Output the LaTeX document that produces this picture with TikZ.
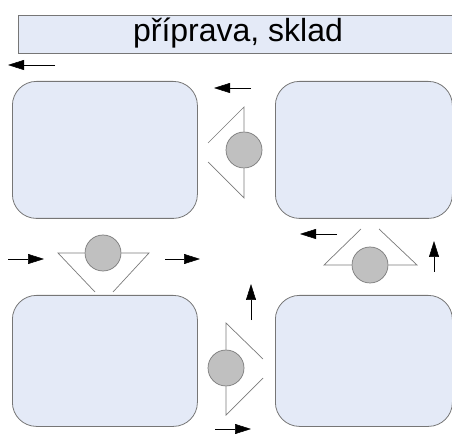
\documentclass[tikz,border=0pt]{standalone}
\usepackage{fontspec}
\setmainfont{Liberation Sans}
\usepackage{tikz}
\usetikzlibrary{calc,arrows.meta}

\definecolor{roomfill}{HTML}{E4EAF7}
\definecolor{roomline}{HTML}{767676}
\definecolor{valvefill}{HTML}{C0C0C0}
\definecolor{valveline}{HTML}{7A7A7A}

\tikzset{
  room/.style={rectangle, draw=roomline, fill=roomfill, line width=0.8pt,
    rounded corners=24pt, anchor=north west, inner sep=0pt},
  valve/.style={circle, draw=valveline, fill=valvefill, line width=0.7pt,
    minimum size=36pt, inner sep=0pt},
  wing/.style={draw=valveline, line width=0.7pt},
  flow/.style={-{Triangle[length=16pt,width=10pt]}, line width=0.5pt, black}
}

\begin{document}
\begin{tikzpicture}[x=1pt,y=-1pt]
  \useasboundingbox (0,0) rectangle (452,435);

  % Top bar
  \node[rectangle, draw=roomline, fill=roomfill, line width=0.8pt,
    anchor=north west, minimum width=460pt, minimum height=38pt,
    inner sep=0pt] (sklad) at (18,15) {};
  \node[font=\fontsize{32}{36}\selectfont] (title) at (238,33) {příprava, sklad};

  % Rooms
  \node[room, minimum width=185pt, minimum height=137pt] (r1) at (12,81) {};
  \node[room, minimum width=177pt, minimum height=137pt] (r2) at (275,81) {};
  \node[room, minimum width=185pt, minimum height=131pt] (r3) at (12,295) {};
  \node[room, minimum width=177pt, minimum height=131pt] (r4) at (275,295) {};

  % Valves between rooms
  \node[valve] (v1) at (244,150) {};
  \node[valve] (v2) at (103,253) {};
  \node[valve] (v3) at (370,265) {};
  \node[valve] (v4) at (226,368) {};

  % Wings round each valve
  \draw[wing] (208,143) -- (244,107) -- (v1.north);
  \draw[wing] (208,162) -- (244,198) -- (v1.south);
  \draw[wing] (95,292) -- (58,253) -- (v2.west);
  \draw[wing] (113,292) -- (149,253) -- (v2.east);
  \draw[wing] (361,229) -- (324,265) -- (v3.west);
  \draw[wing] (379,229) -- (417,265) -- (v3.east);
  \draw[wing] (263,359) -- (226,323) -- (v4.north);
  \draw[wing] (263,378) -- (226,415) -- (v4.south);

  % Flow arrows
  \coordinate (a1) at (55,65);  \coordinate (b1) at (8,65);
  \coordinate (a2) at (251,88); \coordinate (b2) at (214,88);
  \coordinate (a3) at (8,259);  \coordinate (b3) at (44,259);
  \coordinate (a4) at (165,259); \coordinate (b4) at (200,259);
  \coordinate (a5) at (337,234); \coordinate (b5) at (300,234);
  \coordinate (a6) at (434,272); \coordinate (b6) at (434,241);
  \coordinate (a7) at (251,320); \coordinate (b7) at (251,284);
  \coordinate (a8) at (215,429); \coordinate (b8) at (251,429);
  \foreach \i in {1,...,8}
    \draw[flow] (a\i) -- (b\i);
\end{tikzpicture}
\end{document}
